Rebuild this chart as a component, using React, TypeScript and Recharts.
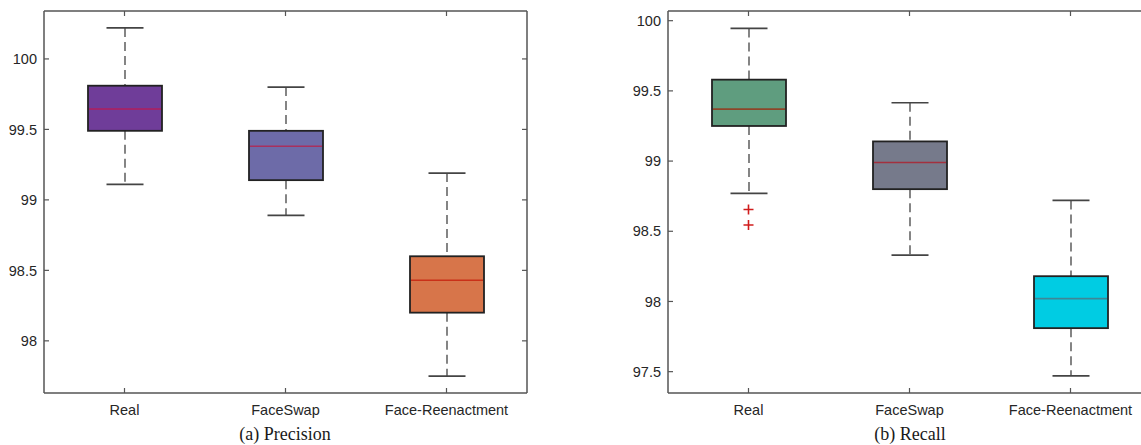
import React from 'react'
import { ComposedChart, Bar, Scatter, XAxis, YAxis } from 'recharts'

// categories and the box statistics
const categories = ['Real', 'FaceSwap', 'Face-Reenactment']

const precisionLow = [99.11, 98.89, 97.75]
const precisionQ1 = [99.49, 99.14, 98.2]
const precisionMedian = [99.645, 99.38, 98.43]
const precisionQ3 = [99.81, 99.49, 98.6]
const precisionHigh = [100.22, 99.8, 99.19]
const precisionTicks = [98, 98.5, 99, 99.5, 100]

const recallLow = [98.77, 98.33, 97.47]
const recallQ1 = [99.25, 98.8, 97.81]
const recallMedian = [99.37, 98.99, 98.02]
const recallQ3 = [99.58, 99.14, 98.18]
const recallHigh = [99.945, 99.415, 98.72]
const recallOutliers = [[98.655, 98.545], [], []]
const recallTicks = [97.5, 98, 98.5, 99, 99.5, 100]

const precisionFill = ['#6f3d99', '#6d6ba8', '#d7754a']
const precisionMedianColor = ['#b01e5c', '#a8305e', '#c93018']
const recallFill = ['#5f9d7f', '#767a8b', '#00cce3']
const recallMedianColor = ['#8c4628', '#a3303e', '#3d8797']

interface Row {
  name: string
  lo: number
  q1: number
  med: number
  q3: number
  hi: number
  o1: number | null
  o2: number | null
}

function buildRows(lo: number[], q1: number[], med: number[], q3: number[], hi: number[], out?: number[][]): Row[] {
  return categories.map((name, i) => ({
    name,
    lo: lo[i],
    q1: q1[i],
    med: med[i],
    q3: q3[i],
    hi: hi[i],
    o1: out && out[i][0] !== undefined ? out[i][0] : null,
    o2: out && out[i][1] !== undefined ? out[i][1] : null,
  }))
}

const precisionRows = buildRows(precisionLow, precisionQ1, precisionMedian, precisionQ3, precisionHigh)
const recallRows = buildRows(recallLow, recallQ1, recallMedian, recallQ3, recallHigh, recallOutliers)

const AXIS = '#555'
const tickFont = { fill: '#262626', fontSize: 14.5, fontFamily: '"Liberation Sans", Arial, sans-serif' }
const noTick = () => <g />

function makeBoxShape(fills: string[], medians: string[]) {
  return (props: any) => {
    const { x, y, width, height, payload, index } = props
    const d = payload as Row
    const top = Math.min(y, y + height)
    const h = Math.abs(height)
    // whisker range [lo, hi] is the bar; place the rest on the same scale
    const py = (v: number) => top + ((d.hi - v) / (d.hi - d.lo)) * h
    const cx = x + width / 2
    const cap = width / 4
    return (
      <g>
        <line x1={cx} x2={cx} y1={py(d.hi)} y2={py(d.q3)} stroke="#444" strokeWidth={1.3} strokeDasharray="9 5" />
        <line x1={cx} x2={cx} y1={py(d.q1)} y2={py(d.lo)} stroke="#444" strokeWidth={1.3} strokeDasharray="9 5" />
        <line x1={cx - cap} x2={cx + cap} y1={py(d.hi)} y2={py(d.hi)} stroke="#444" strokeWidth={1.6} />
        <line x1={cx - cap} x2={cx + cap} y1={py(d.lo)} y2={py(d.lo)} stroke="#444" strokeWidth={1.6} />
        <rect x={x} y={py(d.q3)} width={width} height={py(d.q1) - py(d.q3)} fill={fills[index]} stroke="#222" strokeWidth={1.8} />
        <line x1={x + 1} x2={x + width - 1} y1={py(d.med)} y2={py(d.med)} stroke={medians[index]} strokeWidth={1.6} />
      </g>
    )
  }
}

function Plus(props: any) {
  const { cx, cy } = props
  if (cx == null || cy == null) return null
  return (
    <g stroke="#d01c1c" strokeWidth={1.6}>
      <line x1={cx - 5} x2={cx + 5} y1={cy} y2={cy} />
      <line x1={cx} x2={cx} y1={cy - 5} y2={cy + 5} />
    </g>
  )
}

interface PanelProps {
  rows: Row[]
  domain: [number, number]
  ticks: number[]
  fills: string[]
  medians: string[]
  width: number
  margin: { top: number; right: number; bottom: number; left: number }
  outliers?: boolean
}

function BoxPanel({ rows, domain, ticks, fills, medians, width, margin, outliers }: PanelProps) {
  return (
    <ComposedChart width={width} height={445} data={rows} margin={margin}>
      <XAxis
        dataKey="name"
        type="category"
        height={30}
        tickSize={-5}
        tickMargin={17}
        tick={tickFont}
        axisLine={{ stroke: AXIS, strokeWidth: 1.5 }}
        tickLine={{ stroke: AXIS, strokeWidth: 1.2 }}
      />
      <XAxis
        xAxisId="top"
        orientation="top"
        dataKey="name"
        type="category"
        height={1}
        tickSize={-5}
        tick={noTick}
        axisLine={{ stroke: AXIS, strokeWidth: 1.5 }}
        tickLine={{ stroke: AXIS, strokeWidth: 1.2 }}
      />
      <YAxis
        type="number"
        domain={domain}
        ticks={ticks}
        allowDataOverflow
        width={40}
        tickSize={-5}
        tickMargin={12}
        tick={tickFont}
        axisLine={{ stroke: AXIS, strokeWidth: 1.5 }}
        tickLine={{ stroke: AXIS, strokeWidth: 1.2 }}
      />
      <YAxis
        yAxisId="right"
        orientation="right"
        type="number"
        domain={domain}
        ticks={ticks}
        allowDataOverflow
        width={1}
        tickSize={-5}
        tick={noTick}
        axisLine={{ stroke: AXIS, strokeWidth: 1.5 }}
        tickLine={{ stroke: AXIS, strokeWidth: 1.2 }}
      />
      <Bar
        dataKey={(d: Row) => [d.lo, d.hi]}
        barSize={74}
        shape={makeBoxShape(fills, medians)}
        isAnimationActive={false}
      />
      {outliers && <Scatter dataKey="o1" shape={<Plus />} isAnimationActive={false} />}
      {outliers && <Scatter dataKey="o2" shape={<Plus />} isAnimationActive={false} />}
    </ComposedChart>
  )
}

const captionStyle: React.CSSProperties = {
  position: 'absolute',
  top: 424,
  width: 200,
  textAlign: 'center',
  fontFamily: '"Liberation Serif", "Times New Roman", serif',
  fontSize: 18,
  lineHeight: '20px',
  color: '#1a1a1a',
}

export default function App() {
  return (
    <div style={{ position: 'fixed', left: 0, top: 0, width: 1141, height: 445, overflow: 'hidden', background: '#fff' }}>
      <div style={{ position: 'absolute', left: 0, top: 0 }}>
        <BoxPanel
          rows={precisionRows}
          domain={[97.63, 100.34]}
          ticks={precisionTicks}
          fills={precisionFill}
          medians={precisionMedianColor}
          width={570}
          margin={{ top: 10, right: 42, bottom: 22, left: 4 }}
        />
      </div>
      <div style={{ position: 'absolute', left: 590, top: 0 }}>
        <BoxPanel
          rows={recallRows}
          domain={[97.348, 100.069]}
          ticks={recallTicks}
          fills={recallFill}
          medians={recallMedianColor}
          width={600}
          margin={{ top: 10, right: 38, bottom: 22, left: 38 }}
          outliers
        />
      </div>
      <div style={{ ...captionStyle, left: 185 }}>(a) Precision</div>
      <div style={{ ...captionStyle, left: 810 }}>(b) Recall</div>
    </div>
  )
}
